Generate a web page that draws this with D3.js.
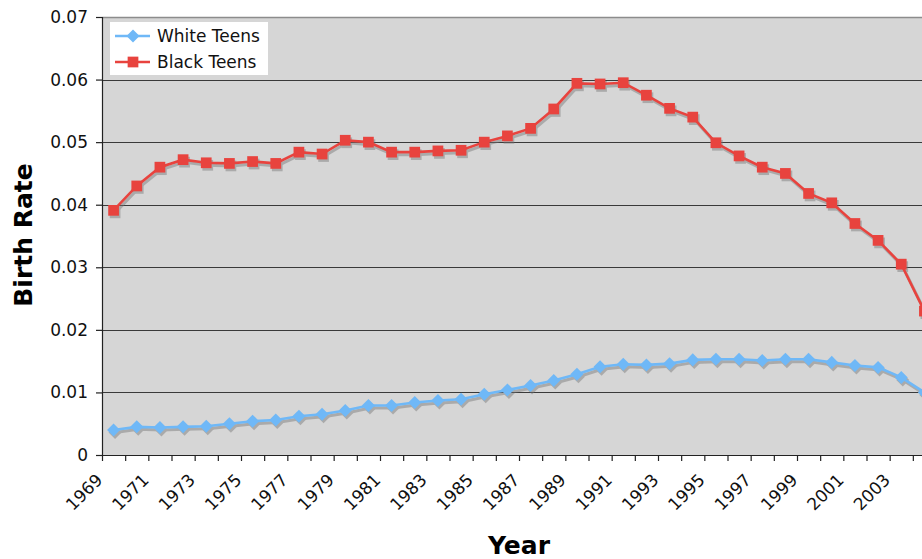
<!DOCTYPE html>
<html><head><meta charset="utf-8">
<script src="https://cdn.jsdelivr.net/npm/d3@7"></script>
<style>
html,body{margin:0;padding:0;background:#fff;}
svg{display:block;font-family:"DejaVu Sans",Verdana,sans-serif;}
</style></head>
<body>
<svg id="chart" width="922" height="559"></svg>
<script>
const years = [1969,1970,1971,1972,1973,1974,1975,1976,1977,1978,1979,1980,1981,1982,1983,1984,1985,1986,1987,1988,1989,1990,1991,1992,1993,1994,1995,1996,1997,1998,1999,2000,2001,2002,2003,2004];
const whiteTeens = [0.0040,0.0045,0.0044,0.0045,0.0046,0.0050,0.0054,0.0056,0.0062,0.0065,0.0071,0.0079,0.0079,0.0084,0.0087,0.0089,0.0097,0.0104,0.0111,0.0119,0.0129,0.0141,0.0145,0.0144,0.0146,0.0152,0.0153,0.0153,0.0151,0.0153,0.0153,0.0148,0.0143,0.0140,0.0124,0.0100];
const blackTeens = [0.0391,0.0430,0.0460,0.0472,0.0467,0.0466,0.0469,0.0466,0.0484,0.0481,0.0503,0.0500,0.0484,0.0484,0.0486,0.0487,0.0500,0.0510,0.0522,0.0553,0.0594,0.0593,0.0595,0.0575,0.0554,0.0540,0.0499,0.0478,0.0460,0.0450,0.0418,0.0403,0.0370,0.0343,0.0305,0.0230];
const yTicks = [0,0.01,0.02,0.03,0.04,0.05,0.06,0.07];
const yTickLabels = ["0","0.01","0.02","0.03","0.04","0.05","0.06","0.07"];
const seriesNames = ["White Teens","Black Teens"];

const svg = d3.select("#chart");
const pLeft = 102, pRight = 936, pTop = 17, pBottom = 455;
const x = d3.scaleBand().domain(years).range([pLeft, pRight]).padding(0);
const y = d3.scaleLinear().domain([0, 0.07]).range([pBottom, pTop]);
const cx = d => x(d) + x.bandwidth() / 2;

// plot area
svg.append("rect").attr("x", pLeft).attr("y", pTop).attr("width", pRight - pLeft).attr("height", pBottom - pTop)
  .attr("fill", "#d6d6d6");
svg.append("line").attr("x1", pLeft).attr("x2", pRight).attr("y1", pTop + 0.5).attr("y2", pTop + 0.5)
  .attr("stroke", "#8c8c8c").attr("stroke-width", 1.5);

// gridlines
svg.append("g").selectAll("line").data(yTicks.filter(v => v > 0 && v < 0.07)).join("line")
  .attr("x1", pLeft).attr("x2", pRight)
  .attr("y1", d => Math.round(y(d)) + 0.5).attr("y2", d => Math.round(y(d)) + 0.5)
  .attr("stroke", "#3a3a3a").attr("stroke-width", 1.2);

// y axis
const yAxis = d3.axisLeft(y).tickValues(yTicks).tickFormat((d, i) => yTickLabels[i]).tickSize(6).tickPadding(8);
const gy = svg.append("g").attr("transform", `translate(${pLeft},0)`).call(yAxis);
gy.select(".domain").attr("stroke", "#222").attr("stroke-width", 1.2).attr("d", `M0.5,${pTop}V${pBottom}`);
gy.selectAll(".tick line").attr("stroke", "#222").attr("stroke-width", 1.2);
gy.selectAll(".tick text").attr("font-size", 17).attr("fill", "#111").attr("font-family", "DejaVu Sans");

// x axis ticks at band boundaries
const boundaries = years.map(d => x(d)).concat([pRight]);
const gx = svg.append("g");
gx.append("line").attr("x1", pLeft).attr("x2", pRight).attr("y1", pBottom + 0.5).attr("y2", pBottom + 0.5)
  .attr("stroke", "#222").attr("stroke-width", 1.2);
gx.selectAll("line.t").data(boundaries).join("line").attr("class", "t")
  .attr("x1", d => d + 0.5).attr("x2", d => d + 0.5).attr("y1", pBottom).attr("y2", pBottom + 6)
  .attr("stroke", "#222").attr("stroke-width", 1.2);
gx.selectAll("text").data(years.filter((d, i) => i % 2 === 0)).join("text")
  .attr("transform", d => `translate(${cx(d) - 10},${481}) rotate(-45)`)
  .attr("text-anchor", "end").attr("font-size", 17).attr("fill", "#111")
  .text(d => d);

// axis titles
svg.append("text").attr("x", (pLeft + pRight) / 2).attr("y", 554).attr("text-anchor", "middle")
  .attr("font-size", 25).attr("font-weight", "bold").attr("fill", "#000").text("Year");
svg.append("text").attr("transform", `translate(32,235) rotate(-90)`).attr("text-anchor", "middle")
  .attr("font-size", 25).attr("font-weight", "bold").attr("fill", "#000").text("Birth Rate");

// series
const line = d3.line().x(d => cx(d.year)).y(d => y(d.v));
const whiteData = years.map((yr, i) => ({year: yr, v: whiteTeens[i]}));
const blackData = years.map((yr, i) => ({year: yr, v: blackTeens[i]}));
const colors = ["#6fb8f7", "#e8433e"];
const symSize = [85, 115];
const rot = [45, 0];
const markerPath = k => d3.symbol().type(d3.symbolSquare).size(symSize[k])();

function drawSeries(data, k) {
  const g = svg.append("g");
  const sh = g.append("g").attr("transform", "translate(1.5,2.5)").attr("opacity", 0.45);
  sh.append("path").datum(data).attr("d", line).attr("fill", "none").attr("stroke", "#777").attr("stroke-width", 3);
  sh.selectAll("path.sm").data(data).join("path").attr("class", "sm")
    .attr("transform", d => `translate(${cx(d.year)},${y(d.v)}) rotate(${rot[k]})`)
    .attr("d", markerPath(k)).attr("fill", "#777");
  const fg = g.append("g");
  fg.append("path").datum(data).attr("d", line).attr("fill", "none").attr("stroke", colors[k]).attr("stroke-width", 2.6);
  fg.selectAll("path.mk").data(data).join("path").attr("class", "mk")
    .attr("transform", d => `translate(${cx(d.year)},${y(d.v)}) rotate(${rot[k]})`)
    .attr("d", markerPath(k)).attr("fill", colors[k]);
}
drawSeries(whiteData, 0);
drawSeries(blackData, 1);

// legend
const lg = svg.append("g");
lg.append("rect").attr("x", 110).attr("y", 22).attr("width", 158).attr("height", 53).attr("fill", "#fff");
seriesNames.forEach((name, k) => {
  const ly = 36 + k * 26;
  lg.append("line").attr("x1", 115).attr("x2", 150).attr("y1", ly).attr("y2", ly)
    .attr("stroke", colors[k]).attr("stroke-width", 2.6);
  lg.append("path").attr("transform", `translate(133,${ly}) rotate(${rot[k]})`)
    .attr("d", markerPath(k)).attr("fill", colors[k]);
  lg.append("text").attr("x", 157).attr("y", ly + 6).attr("font-size", 17).attr("fill", "#111").text(name);
});
</script>
</body></html>
